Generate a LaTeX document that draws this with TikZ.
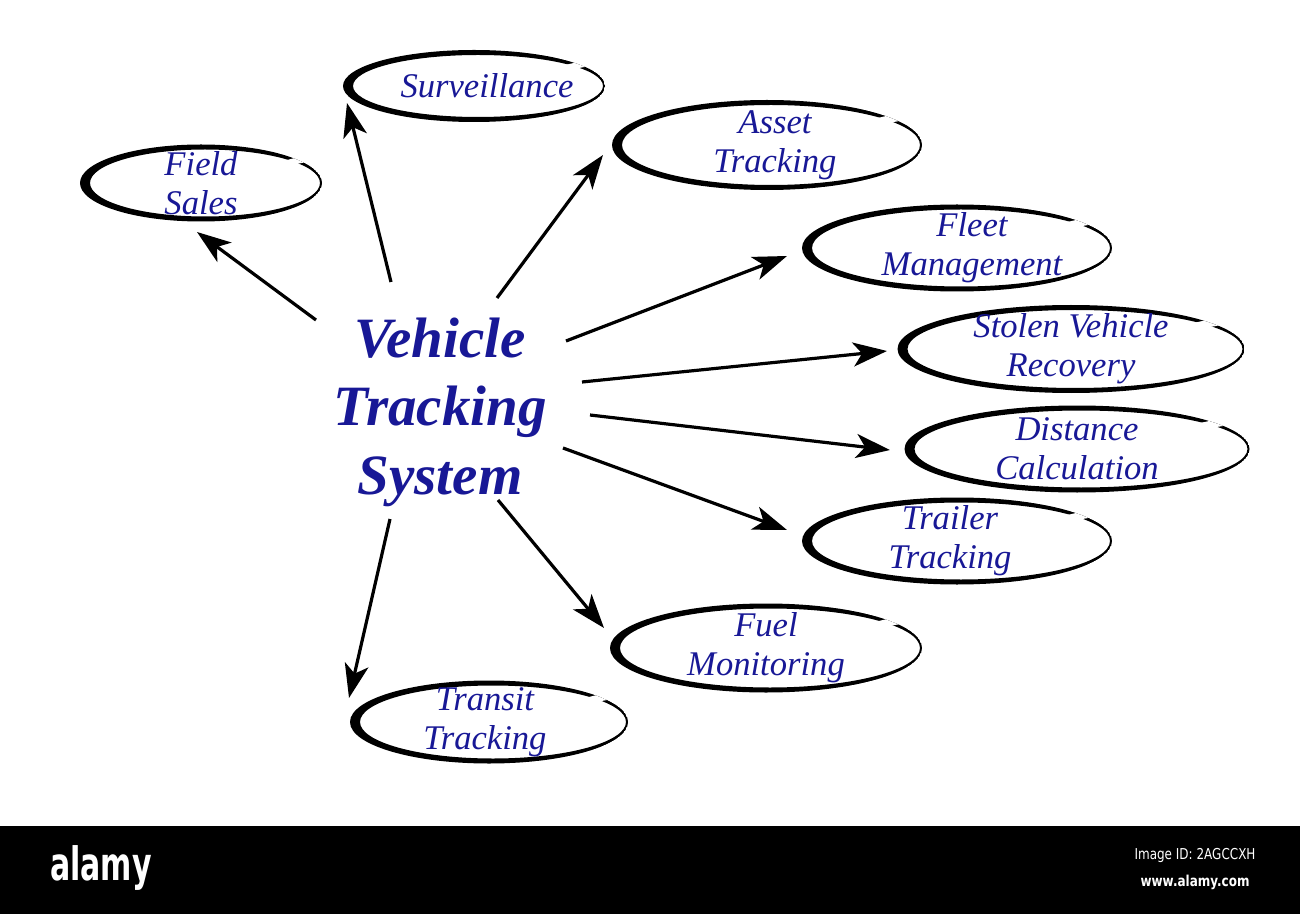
\documentclass[tikz,border=0pt]{standalone}
\usepackage{fontspec}
\setmainfont{Liberation Serif}
\newfontfamily\wmfont{DejaVu Sans}
\usetikzlibrary{arrows.meta,calc,shapes.geometric}
\definecolor{vtsblue}{RGB}{24,24,150}
\tikzset{
  lab/.style    ={font=\fontsize{17.3}{19.5}\selectfont\itshape, text=vtsblue, align=center},
  hub/.style    ={font=\fontsize{28.5}{34.3}\selectfont\bfseries\itshape, text=vtsblue,
                  align=center, inner sep=0pt},
  ring/.style 2 args={ellipse, minimum width=#1, minimum height=#2, inner sep=0pt, outer sep=0pt,
    path picture={
      \path[fill=black, even odd rule]
        let \p1=(path picture bounding box.north east),
            \p2=(path picture bounding box.center),
            \n1={\x1-\x2}, \n2={\y1-\y2} in
        (\p2) ellipse [x radius={\n1*1pt}, y radius={\n2*1pt}]
        ($(\p2)+(2pt,0)$) ellipse [x radius={\n1*1pt-3pt}, y radius={\n2*1pt-2.5pt}];
      % brush gap, top right
      \fill[white]
        let \p1=(path picture bounding box.north east),
            \p2=(path picture bounding box.center),
            \n1={\x1-\x2}, \n2={\y1-\y2} in
        (\p2) -- ++({1.3*\n1*cos(32)*1pt},{1.3*\n2*sin(32)*1pt})
              -- ($(\p2)+({1.3*\n1*cos(40)*1pt},{1.3*\n2*sin(40)*1pt})$) -- cycle;
    }},
  vtsarrow/.style={-{Stealth[length=17pt, width=12pt, inset=4.5pt]}, line width=1.6pt, black},
  wmark/.style  ={text=white, inner sep=0pt},
}
\begin{document}
\begin{tikzpicture}[x=0.5pt, y=-0.5pt]
\useasboundingbox (0,0) rectangle (1300,914);
\fill[white] (0,0) rectangle (1300,914);

% hub
\node[hub] (vts) at (440,412) {Vehicle\\Tracking\\System};

% satellites
\node[ring={121pt}{38.5pt}, label={[lab]center:Field\\Sales}] (field) at (201,183) {};
\node[ring={131pt}{36pt}, label={[lab, xshift=6.5pt]center:Surveillance}] (surv) at (474,86) {};
\node[ring={155pt}{45pt}, label={[lab, xshift=4pt]center:Asset\\Tracking}] (asset) at (767,145) {};
\node[ring={155pt}{43.5pt}, label={[lab, xshift=7.5pt]center:Fleet\\Management}] (fleet) at (957,248) {};
\node[ring={173.5pt}{44pt}, label={[lab]center:Stolen Vehicle\\Recovery}] (stolen) at (1071,349) {};
\node[ring={172.5pt}{43.5pt}, label={[lab]center:Distance\\Calculation}] (dist) at (1077,449) {};
\node[ring={155pt}{43.5pt}, label={[lab, xshift=-3.5pt]center:Trailer\\Tracking}] (trailer) at (957,541) {};
\node[ring={156pt}{44.5pt}, label={[lab]center:Fuel\\Monitoring}] (fuel) at (766,648) {};
\node[ring={139pt}{41.5pt}, label={[lab, xshift=-2pt]center:Transit\\Tracking}] (transit) at (489,722) {};

% spokes
\foreach \tgt/\tx/\ty/\hx/\hy in {field/-124/-92/-4/49, surv/-49/-130/-127/17,
    asset/57/-114/-164/10, fleet/126/-71/-170/8, stolen/142/-30/-184/2,
    dist/150/3/-187/1, trailer/123/36/-170/-11, fuel/58/88/-162/-20,
    transit/-50/107/-140/-24}
  \draw[vtsarrow] ($(vts)+(\tx,\ty)$) -- ($(\tgt)+(\hx,\hy)$);

% band
\fill[black] (0,826) rectangle (1300,914);
\node[wmark, anchor=base, font=\wmfont\bfseries\fontsize{20}{20}\selectfont, xscale=0.75, yscale=1.15] (brand) at (101,880) {alamy};
\node[wmark, font=\wmfont\fontsize{7.5}{8}\selectfont, xscale=0.8] (imgid) at (1195,855) {Image ID: 2AGCCXH};
\node[wmark, font=\wmfont\bfseries\fontsize{7.5}{8}\selectfont, xscale=0.8] (site) at (1195,882) {www.alamy.com};
\end{tikzpicture}
\end{document}
